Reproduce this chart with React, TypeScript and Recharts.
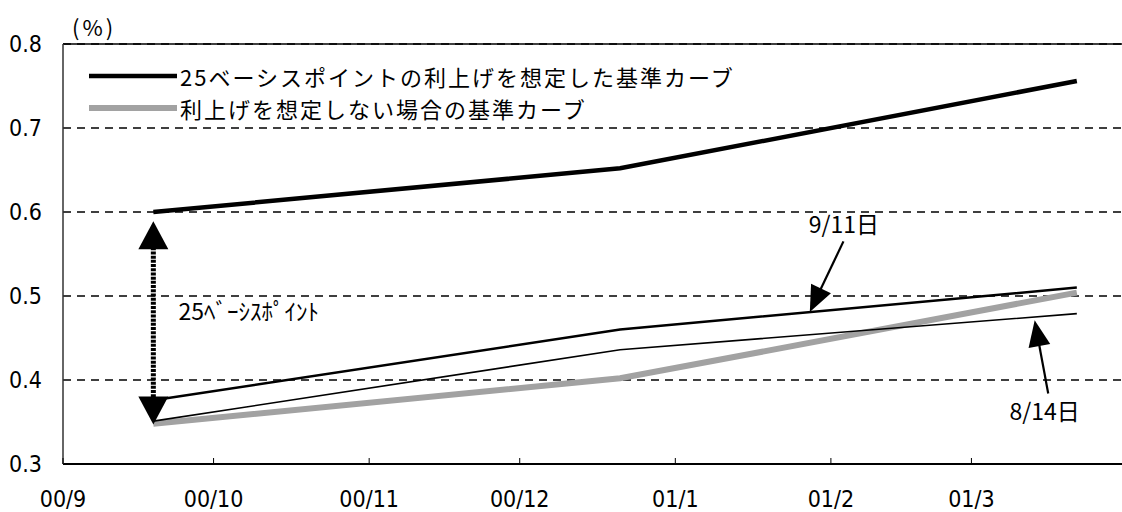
import React from 'react';
import { LineChart, Line, XAxis, YAxis, CartesianGrid, ReferenceLine, ReferenceDot } from 'recharts';

// x values are days counted from 2000/9/1
const days = [18, 111, 202];
const hikeCurve = [0.6, 0.652, 0.756];
const flatCurve = [0.348, 0.402, 0.504];
const sep11Curve = [0.376, 0.46, 0.51];
const aug14Curve = [0.351, 0.436, 0.479];

const monthTicks = [0, 30, 61, 91, 122, 153, 181];
const monthLabels = ['00/9', '00/10', '00/11', '00/12', '01/1', '01/2', '01/3'];
const yTicks = [0.3, 0.4, 0.5, 0.6, 0.7, 0.8];

const legendNames = ['25ベーシスポイントの利上げを想定した基準カーブ', '利上げを想定しない場合の基準カーブ'];
const legendColors = ['#000000', '#a2a2a2'];
const legendWidths = [4.5, 6];

// annotation anchors in (day, %) units
const spreadArrow = { day: 18, top: 0.589, bottom: 0.347 };
const spreadLabel = { day: 23, value: 0.481, text: '25ﾍﾞｰｼｽﾎﾟｲﾝﾄ' };
const sep11Arrow = { tail: { x: 155.5, y: 0.565 }, tip: { x: 148.8, y: 0.481 } };
const sep11Label = { day: 155.6, value: 0.585, text: '9/11日' };
const aug14Arrow = { tail: { x: 196.3, y: 0.384 }, tip: { x: 193.6, y: 0.471 } };
const aug14Label = { day: 195.6, value: 0.362, text: '8/14日' };

const data = days.map((d, i) => ({
  day: d,
  hike: hikeCurve[i],
  flat: flatCurve[i],
  sep11: sep11Curve[i],
  aug14: aug14Curve[i],
}));

const NUM_FONT = '"Liberation Sans Narrow", "DejaVu Sans Condensed", "Liberation Sans", sans-serif';
const JP_FONT = '"Noto Sans CJK JP", sans-serif';

function headPoints(tx: number, ty: number, fx: number, fy: number, len: number, half: number) {
  const dx = tx - fx;
  const dy = ty - fy;
  const l = Math.hypot(dx, dy) || 1;
  const ux = dx / l;
  const uy = dy / l;
  const bx = tx - ux * len;
  const by = ty - uy * len;
  return `${tx},${ty} ${bx - uy * half},${by + ux * half} ${bx + uy * half},${by - ux * half}`;
}

const SingleArrow = (p: any) => {
  const { x1, y1, x2, y2 } = p;
  const len = 26;
  const l = Math.hypot(x2 - x1, y2 - y1) || 1;
  const ex = x2 - ((x2 - x1) / l) * (len - 2);
  const ey = y2 - ((y2 - y1) / l) * (len - 2);
  return (
    <g>
      <line x1={x1} y1={y1} x2={ex} y2={ey} stroke="#000" strokeWidth={2.2} />
      <polygon points={headPoints(x2, y2, x1, y1, len, 11)} fill="#000" />
    </g>
  );
};

const DoubleArrow = (p: any) => {
  const { x1, y1, x2, y2 } = p;
  const len = 28;
  return (
    <g>
      <line x1={x1} y1={y1 + len - 2} x2={x2} y2={y2 - len + 2} stroke="#000" strokeWidth={5} strokeDasharray="3 1.2" />
      <polygon points={headPoints(x1, y1, x2, y2, len, 15)} fill="#000" />
      <polygon points={headPoints(x2, y2, x1, y1, len, 15)} fill="#000" />
    </g>
  );
};

const textShape = (text: string, anchor: 'start' | 'middle') => (p: any) => (
  <text x={p.cx} y={p.cy} dy="0.36em" textAnchor={anchor} fontFamily={JP_FONT} fontSize={23} fill="#000">
    {text}
  </text>
);

const MonthTick = ({ x, y, payload }: any) => {
  const i = monthTicks.indexOf(payload.value);
  return (
    <g>
      <line x1={x} x2={x} y1={y} y2={y - 6} stroke="#000" strokeWidth={1} />
      <text x={x} y={y + 43} textAnchor="middle" fontFamily={NUM_FONT} fontSize={23} fill="#000">
        {monthLabels[i]}
      </text>
    </g>
  );
};

export default function App() {
  return (
    <div style={{ position: 'relative', width: 1122, height: 512, background: '#fff' }}>
      <style>{'body{margin:0}'}</style>
      <LineChart width={1122} height={512} data={data} margin={{ top: 44, right: 0, bottom: 0, left: 0 }}>
        <CartesianGrid vertical={false} stroke="#000" strokeWidth={1.6} strokeDasharray="8 6" />
        <XAxis
          dataKey="day"
          type="number"
          domain={[0, 211]}
          ticks={monthTicks}
          interval={0}
          height={48}
          tickSize={0}
          tickMargin={0}
          tick={<MonthTick />}
          axisLine={{ stroke: '#000', strokeWidth: 2 }}
          allowDataOverflow
        />
        <YAxis
          type="number"
          domain={[0.3, 0.8]}
          ticks={yTicks}
          width={63}
          tickLine={false}
          tickMargin={15}
          tickFormatter={(v: number) => v.toFixed(1)}
          tick={{ fill: '#000', fontSize: 23, fontFamily: NUM_FONT }}
          axisLine={{ stroke: '#333', strokeWidth: 1.5 }}
        />
        <ReferenceLine y={0.8} stroke="#000" strokeWidth={1.5} />
        <Line dataKey="flat" stroke="#a2a2a2" strokeWidth={6} dot={false} activeDot={false} isAnimationActive={false} />
        <Line dataKey="aug14" stroke="#000" strokeWidth={1.6} dot={false} activeDot={false} isAnimationActive={false} />
        <Line dataKey="sep11" stroke="#000" strokeWidth={2.5} dot={false} activeDot={false} isAnimationActive={false} />
        <Line dataKey="hike" stroke="#000" strokeWidth={4.5} dot={false} activeDot={false} isAnimationActive={false} />
        <ReferenceLine
          segment={[{ x: spreadArrow.day, y: spreadArrow.top }, { x: spreadArrow.day, y: spreadArrow.bottom }]}
          shape={DoubleArrow}
        />
        <ReferenceLine segment={[sep11Arrow.tail, sep11Arrow.tip]} shape={SingleArrow} />
        <ReferenceLine segment={[aug14Arrow.tail, aug14Arrow.tip]} shape={SingleArrow} />
        <ReferenceDot x={spreadLabel.day} y={spreadLabel.value} r={0} shape={textShape(spreadLabel.text, 'start')} />
        <ReferenceDot x={sep11Label.day} y={sep11Label.value} r={0} shape={textShape(sep11Label.text, 'middle')} />
        <ReferenceDot x={aug14Label.day} y={aug14Label.value} r={0} shape={textShape(aug14Label.text, 'middle')} />
      </LineChart>
      <div style={{ position: 'absolute', left: 72, top: 12, fontSize: 22, fontFamily: JP_FONT, lineHeight: '28px', letterSpacing: 3 }}>
        (%)
      </div>
      <div style={{ position: 'absolute', left: 89, top: 60 }}>
        {legendNames.map((name, i) => (
          <div key={name} style={{ display: 'flex', alignItems: 'center', height: 32 }}>
            <svg width={88} height={10} style={{ display: 'block' }}>
              <line x1={0} x2={88} y1={5} y2={5} stroke={legendColors[i]} strokeWidth={legendWidths[i]} />
            </svg>
            <span
              style={{
                marginLeft: 3,
                fontFamily: JP_FONT,
                fontSize: 22,
                letterSpacing: 2,
                lineHeight: '32px',
                whiteSpace: 'nowrap',
              }}
            >
              {name}
            </span>
          </div>
        ))}
      </div>
    </div>
  );
}
